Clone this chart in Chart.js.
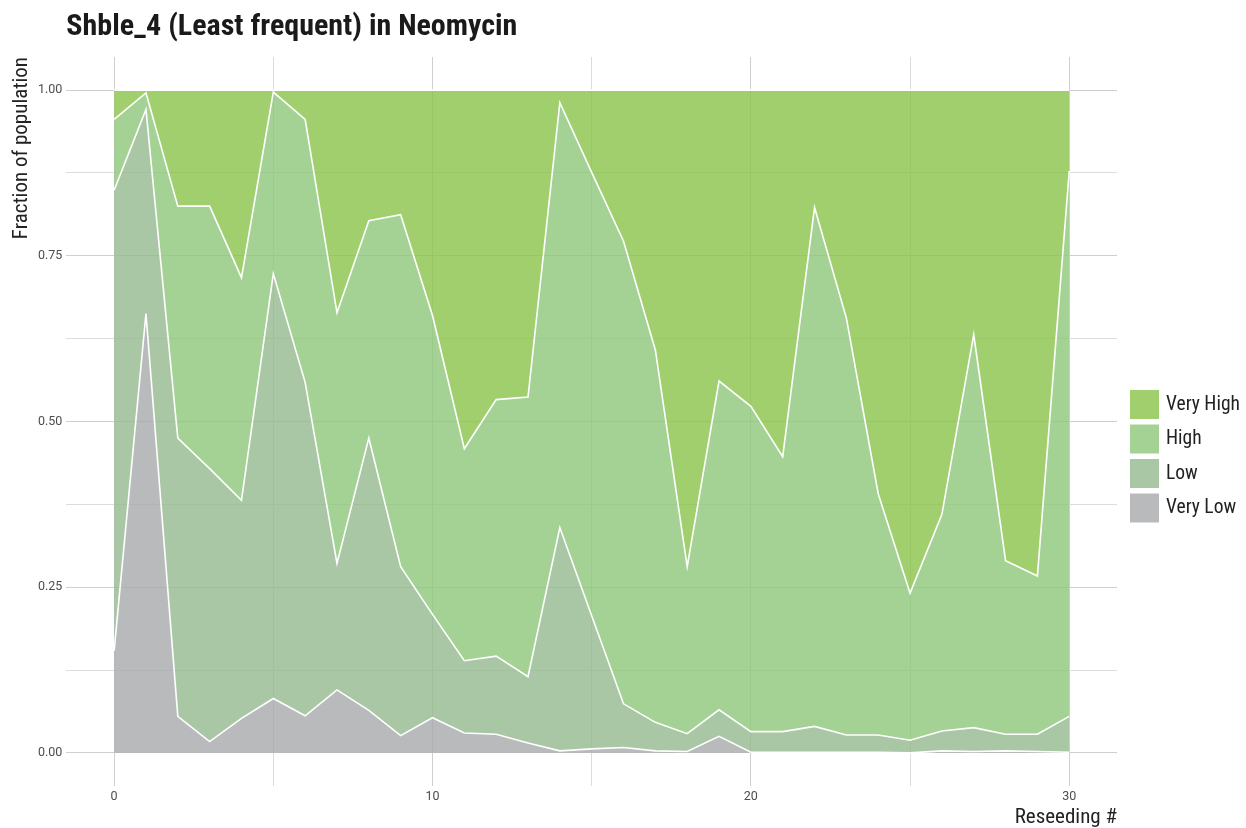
<!DOCTYPE html>
<html>
<head>
<meta charset="utf-8">
<script src="https://cdn.jsdelivr.net/npm/chart.js@4/dist/chart.umd.min.js"></script>
<style>
html,body{margin:0;padding:0;background:#ffffff;}
#wrap{width:1246px;height:828px;position:relative;}
</style>
</head>
<body>
<div id="wrap"><canvas id="c" width="1246" height="828"></canvas></div>
<script>
// ---- data ----
const reseeding = [0,1,2,3,4,5,6,7,8,9,10,11,12,13,14,15,16,17,18,19,20,21,22,23,24,25,26,27,28,29,30];
const veryLow  = [0.154,0.663,0.055,0.017,0.052,0.082,0.056,0.095,0.064,0.026,0.053,0.030,0.028,0.015,0.003,0.006,0.008,0.003,0.002,0.025,0.001,0.001,0.001,0.001,0.001,0.000,0.003,0.002,0.003,0.002,0.001];
const low      = [0.695,0.308,0.420,0.412,0.329,0.641,0.503,0.191,0.411,0.255,0.156,0.109,0.118,0.100,0.337,0.201,0.066,0.043,0.027,0.040,0.031,0.031,0.039,0.026,0.026,0.019,0.030,0.036,0.025,0.026,0.054];
const high     = [0.107,0.025,0.350,0.396,0.336,0.274,0.397,0.378,0.328,0.531,0.451,0.320,0.387,0.422,0.641,0.669,0.698,0.562,0.252,0.496,0.491,0.415,0.783,0.629,0.364,0.222,0.327,0.593,0.262,0.239,0.823];
const veryHigh = [0.044,0.004,0.175,0.175,0.283,0.003,0.044,0.336,0.197,0.188,0.340,0.541,0.467,0.463,0.019,0.124,0.228,0.392,0.719,0.439,0.477,0.553,0.177,0.344,0.609,0.759,0.640,0.369,0.710,0.733,0.122];
const seriesNames = ['Very Low','Low','High','Very High'];
const xTickValues = [0,5,10,15,20,25,30];
const yTickValues = [0,0.125,0.25,0.375,0.5,0.625,0.75,0.875,1];
const titleText = 'Shble_4 (Least frequent) in Neomycin';
const xTitle = 'Reseeding #';
const yTitle = 'Fraction of population';

// ---- styling ----
const fills = ['rgba(168,169,171,0.8)','rgba(149,185,143,0.8)','rgba(141,199,121,0.8)','rgba(139,195,74,0.8)'];
const COND = '"Roboto Condensed", "Liberation Sans Narrow", Roboto, sans-serif';
const TICKFONT = 'Roboto, "Liberation Sans", sans-serif';

const seriesValues = [veryLow, low, high, veryHigh];
const datasets = seriesValues.map((vals, i) => ({
  label: seriesNames[i],
  data: reseeding.map((x, j) => ({x: x, y: vals[j]})),
  backgroundColor: fills[i],
  borderColor: '#ffffff',
  borderWidth: 1.6,
  pointRadius: 0,
  pointHoverRadius: 0,
  tension: 0,
  fill: i === 0 ? 'origin' : '-1'
}));

// ggplot-style legend on the right (top item = last series)
const sideLegend = {
  id: 'sideLegend',
  afterDraw(chart) {
    const ctx = chart.ctx;
    const x0 = chart.chartArea.right + 13;
    let y = 390;
    ctx.save();
    ctx.font = '19.5px ' + COND;
    ctx.textBaseline = 'middle';
    ctx.textAlign = 'left';
    for (let k = chart.data.datasets.length - 1; k >= 0; k--) {
      const ds = chart.data.datasets[k];
      ctx.fillStyle = ds.backgroundColor;
      ctx.fillRect(x0, y, 29, 29);
      ctx.fillStyle = '#222222';
      ctx.fillText(ds.label, x0 + 36, y + 15);
      y += 34.5;
    }
    ctx.restore();
  }
};

new Chart(document.getElementById('c'), {
  type: 'line',
  data: { datasets: datasets },
  options: {
    responsive: false,
    animation: false,
    devicePixelRatio: 1,
    layout: { padding: { left: 7, right: 129, top: 0, bottom: 0 } },
    plugins: {
      legend: { display: false },
      tooltip: { enabled: false },
      title: {
        display: true,
        text: titleText,
        align: 'start',
        fullSize: false,
        color: '#1a1a1a',
        font: { family: COND, size: 30, weight: 'bold', lineHeight: 1.2 },
        padding: { top: 9, bottom: 12 }
      }
    },
    scales: {
      x: {
        type: 'linear',
        min: -1.5,
        max: 31.5,
        afterBuildTicks: (s) => { s.ticks = xTickValues.map(v => ({value: v})); },
        ticks: {
          padding: 3,
          color: '#4d4d4d',
          font: { family: TICKFONT, size: 12.5 },
          maxRotation: 0,
          autoSkip: false,
          callback: (v) => (v % 10 === 0 ? String(v) : '')
        },
        grid: {
          drawTicks: false,
          lineWidth: 1,
          color: (c) => (c.tick && c.tick.value % 10 === 0 ? '#cfcfcf' : '#dcdcdc')
        },
        border: { display: false },
        title: {
          display: true,
          text: xTitle,
          align: 'end',
          color: '#222222',
          font: { family: COND, size: 21, lineHeight: 1.0 },
          padding: { top: 0, bottom: 0 }
        }
      },
      y: {
        type: 'linear',
        stacked: true,
        min: -0.05,
        max: 1.05,
        afterBuildTicks: (s) => { s.ticks = yTickValues.map(v => ({value: v})); },
        ticks: {
          padding: 4,
          color: '#4d4d4d',
          font: { family: TICKFONT, size: 12.5 },
          autoSkip: false,
          callback: (v) => (Math.abs(v * 4 - Math.round(v * 4)) < 1e-9 ? Number(v).toFixed(2) : '')
        },
        grid: {
          drawTicks: false,
          lineWidth: 1,
          color: (c) => {
            const v = c.tick ? c.tick.value : 0;
            return Math.abs(v * 4 - Math.round(v * 4)) < 1e-9 ? '#cfcfcf' : '#dcdcdc';
          }
        },
        border: { display: false },
        title: {
          display: true,
          text: yTitle,
          align: 'end',
          color: '#222222',
          font: { family: COND, size: 21, lineHeight: 1.0 },
          padding: { top: 4, bottom: 2 }
        }
      }
    }
  },
  plugins: [sideLegend]
});
</script>
</body>
</html>
